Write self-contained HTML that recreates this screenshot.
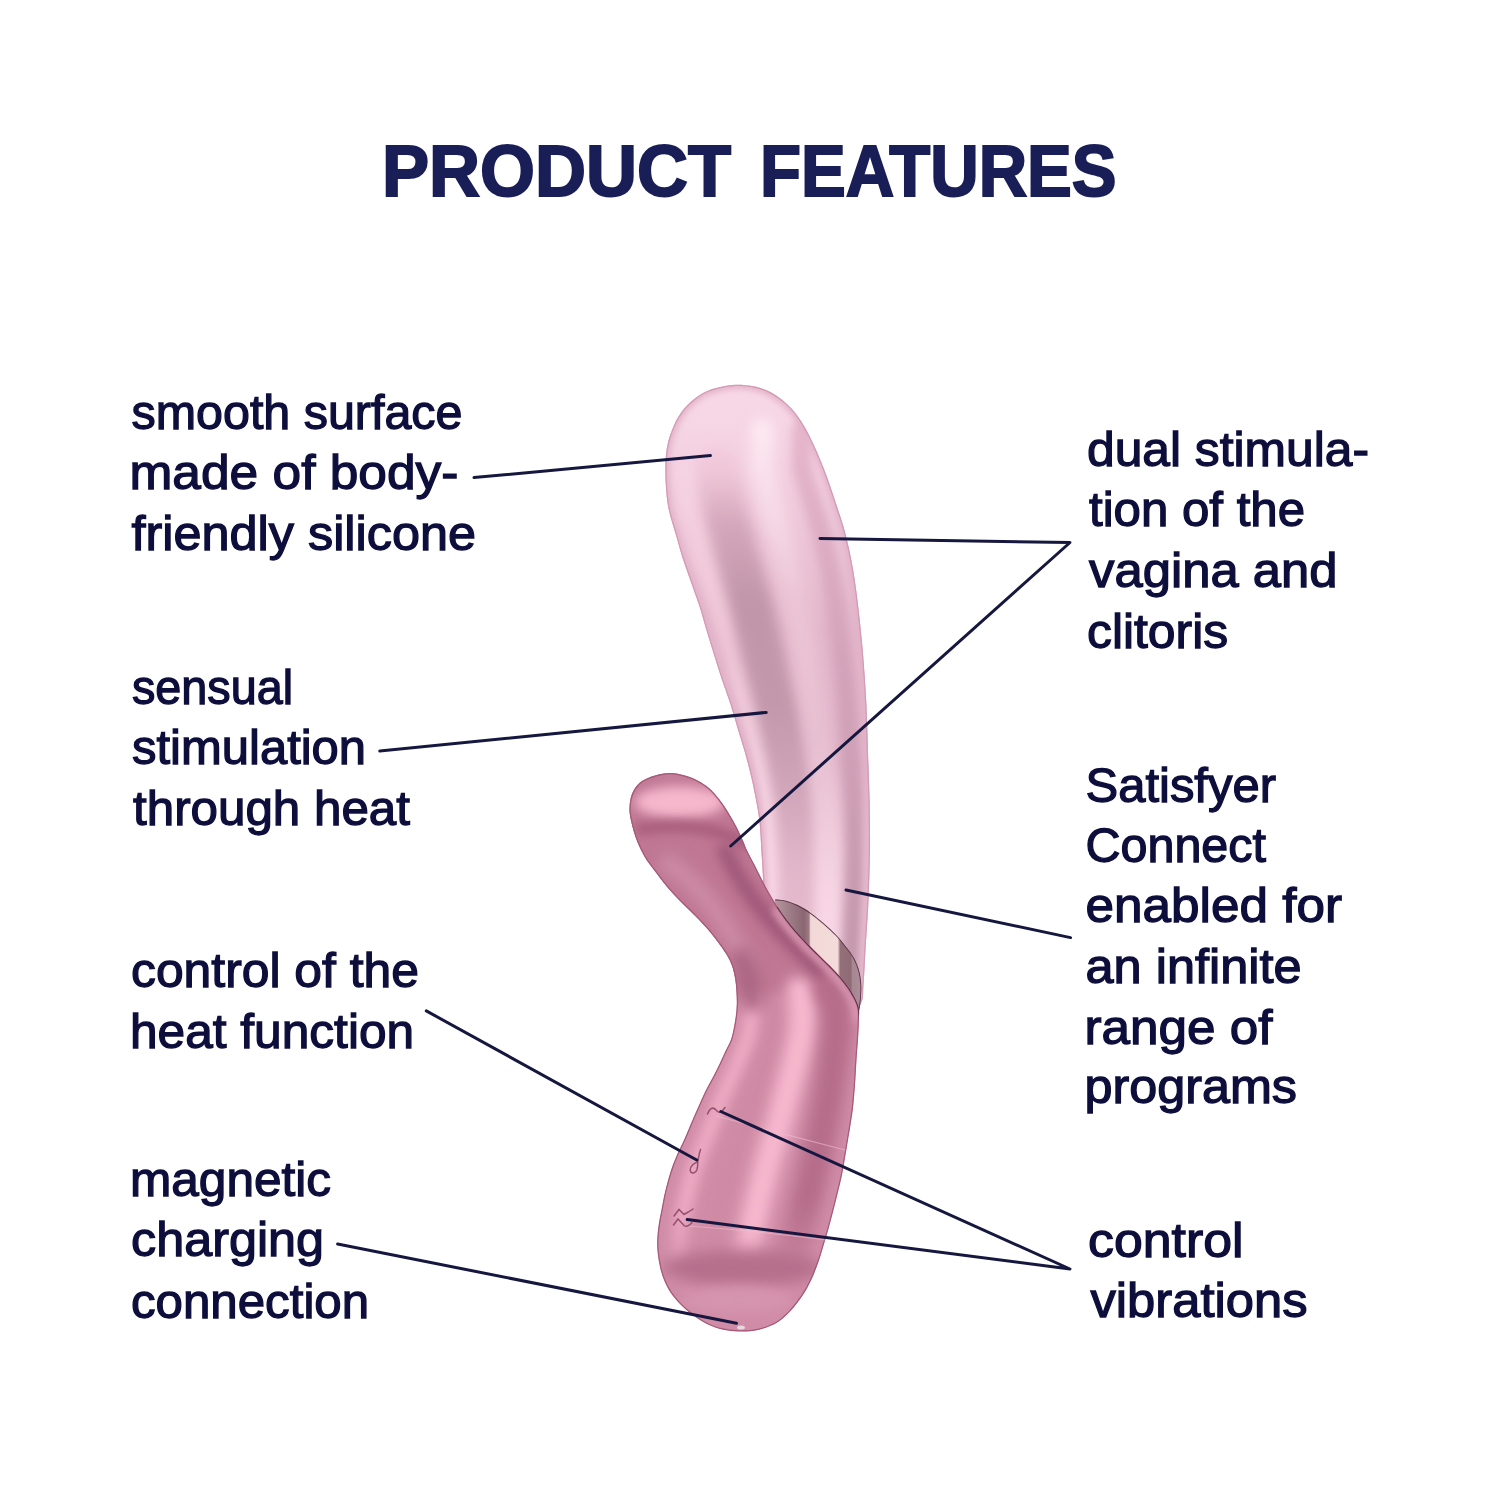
<!DOCTYPE html>
<html><head><meta charset="utf-8"><style>
html,body{margin:0;padding:0;background:#fff;}
svg{display:block}
.t{font-family:"Liberation Sans",sans-serif;font-size:49px;fill:#0e0e3c;stroke:#0e0e3c;stroke-width:1.3px;}
.h{font-family:"Liberation Sans",sans-serif;font-weight:bold;font-size:72px;fill:#191e57;stroke:#191e57;stroke-width:2px;}
</style></head><body>
<svg width="1500" height="1500" viewBox="0 0 1500 1500">
<defs>
 <filter id="b7" filterUnits="userSpaceOnUse" x="500" y="300" width="500" height="1100"><feGaussianBlur stdDeviation="7"/></filter>
 <filter id="b6" filterUnits="userSpaceOnUse" x="500" y="300" width="500" height="1100"><feGaussianBlur stdDeviation="6"/></filter>
 <filter id="b5" filterUnits="userSpaceOnUse" x="500" y="300" width="500" height="1100"><feGaussianBlur stdDeviation="5"/></filter>
 <filter id="b3" filterUnits="userSpaceOnUse" x="500" y="300" width="500" height="1100"><feGaussianBlur stdDeviation="3"/></filter>
 <filter id="b1" filterUnits="userSpaceOnUse" x="500" y="300" width="500" height="1100"><feGaussianBlur stdDeviation="1"/></filter>
 <filter id="b05" filterUnits="userSpaceOnUse" x="500" y="300" width="500" height="1100"><feGaussianBlur stdDeviation="0.5"/></filter>
 <linearGradient id="gS" gradientUnits="userSpaceOnUse" x1="0" y1="385" x2="0" y2="1000">
  <stop offset="0" stop-color="#f8d9e7"/><stop offset="0.15" stop-color="#f3cfe0"/><stop offset="0.4" stop-color="#e3b6cb"/><stop offset="0.62" stop-color="#e2b5ca"/><stop offset="0.76" stop-color="#eec9da"/><stop offset="1" stop-color="#f5d6e4"/>
 </linearGradient>
 <linearGradient id="gL" gradientUnits="userSpaceOnUse" x1="0" y1="470" x2="0" y2="1000">
  <stop offset="0" stop-color="#f6d3e3"/><stop offset="0.35" stop-color="#eec4d6"/><stop offset="0.6" stop-color="#f9d8e7"/><stop offset="0.72" stop-color="#fedeec"/><stop offset="1" stop-color="#fedeec"/>
 </linearGradient>
 <linearGradient id="gD" gradientUnits="userSpaceOnUse" x1="0" y1="470" x2="0" y2="1000">
  <stop offset="0" stop-color="#f0c8da"/><stop offset="0.1" stop-color="#d5a7bc"/><stop offset="0.25" stop-color="#c195a9"/><stop offset="0.45" stop-color="#c398ac"/><stop offset="0.62" stop-color="#d3a7bb"/><stop offset="0.75" stop-color="#e2b6ca"/><stop offset="1" stop-color="#e8bed0"/>
 </linearGradient>
 <linearGradient id="gH" gradientUnits="userSpaceOnUse" x1="0" y1="430" x2="0" y2="1000">
  <stop offset="0" stop-color="#fde8f1"/><stop offset="0.15" stop-color="#f6d8e6"/><stop offset="0.3" stop-color="#ebc4d5"/><stop offset="0.55" stop-color="#e6bfd1"/><stop offset="0.8" stop-color="#f6d4e3"/><stop offset="1" stop-color="#fddbe9"/>
 </linearGradient>
 <linearGradient id="gR" gradientUnits="userSpaceOnUse" x1="0" y1="430" x2="0" y2="1000">
  <stop offset="0" stop-color="#e6b6cc"/><stop offset="0.4" stop-color="#d3a3ba"/><stop offset="1" stop-color="#c396ab"/>
 </linearGradient>
 <linearGradient id="gBand" gradientUnits="userSpaceOnUse" x1="775" y1="0" x2="862" y2="0">
  <stop offset="0" stop-color="#b8979f"/><stop offset="0.12" stop-color="#a5848e"/><stop offset="0.33" stop-color="#8a6671"/><stop offset="0.39" stop-color="#9d7a84"/><stop offset="0.41" stop-color="#f2d9d8"/><stop offset="0.72" stop-color="#f3dbda"/><stop offset="0.75" stop-color="#94707a"/><stop offset="0.87" stop-color="#8f6b75"/><stop offset="0.89" stop-color="#a68690"/><stop offset="1" stop-color="#ae8e98"/>
 </linearGradient>
 <linearGradient id="hg1" gradientUnits="userSpaceOnUse" x1="0" y1="990" x2="0" y2="1290"><stop offset="0" stop-color="#eeaac3"/><stop offset="0.75" stop-color="#eeaac3"/><stop offset="1" stop-color="#eeaac3" stop-opacity="0"/></linearGradient>
 <linearGradient id="hg2" gradientUnits="userSpaceOnUse" x1="0" y1="990" x2="0" y2="1290"><stop offset="0" stop-color="#cf89a4"/><stop offset="0.75" stop-color="#cf89a4"/><stop offset="1" stop-color="#cf89a4" stop-opacity="0"/></linearGradient>
 <linearGradient id="hg3" gradientUnits="userSpaceOnUse" x1="0" y1="990" x2="0" y2="1290"><stop offset="0" stop-color="#f7b8ce"/><stop offset="0.8" stop-color="#f7b8ce"/><stop offset="1" stop-color="#f7b8ce" stop-opacity="0"/></linearGradient>
 <linearGradient id="hg4" gradientUnits="userSpaceOnUse" x1="0" y1="990" x2="0" y2="1290"><stop offset="0" stop-color="#b56d8a"/><stop offset="0.7" stop-color="#b56d8a"/><stop offset="1" stop-color="#b56d8a" stop-opacity="0"/></linearGradient>
 <clipPath id="cs"><path d="M665.3,469.0 C665.3,463.0 665.6,457.3 666.3,452.0 C667.0,446.7 668.0,441.8 669.5,437.0 C671.0,432.2 672.8,427.5 675.0,423.0 C677.2,418.5 680.0,413.8 683.0,410.0 C686.0,406.2 689.3,403.0 693.0,400.0 C696.7,397.0 700.5,394.2 705.0,392.0 C709.5,389.8 714.8,388.2 720.0,387.0 C725.2,385.8 730.7,384.9 736.0,384.7 C741.3,384.5 747.0,385.1 752.0,386.0 C757.0,386.9 761.5,388.1 766.0,390.0 C770.5,391.9 774.8,394.5 779.0,397.5 C783.2,400.5 787.3,404.1 791.0,408.0 C794.7,411.9 797.9,416.3 801.0,421.0 C804.1,425.7 806.8,430.8 809.5,436.0 C812.2,441.2 814.6,446.5 817.0,452.0 C819.4,457.5 821.8,463.2 824.0,469.0 C826.2,474.8 828.4,480.8 830.5,487.0 C832.6,493.2 834.4,498.5 836.8,506.0 C839.2,513.5 842.3,521.7 845.0,532.0 C847.7,542.3 850.6,555.3 852.8,568.0 C855.0,580.7 856.7,593.3 858.4,608.0 C860.1,622.7 861.9,640.0 863.2,656.0 C864.5,672.0 865.6,688.0 866.4,704.0 C867.2,720.0 867.5,736.0 868.0,752.0 C868.5,768.0 869.3,783.7 869.6,800.0 C869.9,816.3 870.2,833.3 870.0,850.0 C869.8,866.7 869.2,883.3 868.5,900.0 C867.8,916.7 866.3,935.8 865.5,950.0 C864.7,964.2 864.2,976.3 863.5,985.0 C862.8,993.7 863.8,997.5 861.5,1002.0 C859.2,1006.5 860.2,1009.7 850.0,1012.0 C839.8,1014.3 814.0,1024.7 800.0,1016.0 C786.0,1007.3 772.0,979.3 766.0,960.0 C760.0,940.7 764.7,916.7 764.0,900.0 C763.3,883.3 762.8,873.0 762.0,860.0 C761.2,847.0 760.5,832.0 759.5,822.0 C758.5,812.0 757.4,807.7 756.0,800.0 C754.6,792.3 752.9,784.0 751.0,776.0 C749.1,768.0 747.0,760.0 744.8,752.0 C742.5,744.0 739.9,736.0 737.5,728.0 C735.1,720.0 733.0,712.0 730.4,704.0 C727.8,696.0 724.7,688.0 722.0,680.0 C719.3,672.0 716.9,664.0 714.4,656.0 C711.9,648.0 709.4,640.0 707.0,632.0 C704.6,624.0 702.3,615.3 700.0,608.0 C697.7,600.7 695.3,594.7 693.0,588.0 C690.7,581.3 688.0,573.8 686.0,568.0 C684.0,562.2 682.5,558.0 681.0,553.0 C679.5,548.0 678.3,543.2 676.8,538.0 C675.3,532.8 673.5,527.3 672.0,522.0 C670.5,516.7 669.0,511.7 668.0,506.0 C667.0,500.3 666.5,494.2 666.0,488.0 C665.5,481.8 665.2,475.0 665.3,469.0Z"/></clipPath>
 <clipPath id="ch"><path d="M669.5,773.0 C674.2,772.9 678.3,773.8 683.0,775.0 C687.7,776.2 693.1,778.2 697.5,780.5 C701.9,782.8 705.9,785.4 709.5,788.5 C713.1,791.6 715.9,795.1 719.0,799.0 C722.1,802.9 725.2,807.5 728.0,812.0 C730.8,816.5 733.5,821.2 736.0,826.0 C738.5,830.8 741.2,837.0 743.0,841.0 C744.8,845.0 745.0,846.3 746.9,850.2 C748.8,854.1 751.8,859.5 754.2,864.3 C756.6,869.0 759.0,873.9 761.5,878.7 C764.0,883.5 766.4,888.3 769.1,893.0 C771.8,897.7 774.6,902.3 777.5,906.8 C780.4,911.3 783.5,915.6 786.7,919.9 C789.9,924.1 793.3,928.3 796.8,932.3 C800.3,936.3 804.0,940.2 807.7,944.1 C811.4,948.0 815.3,951.6 819.1,955.4 C822.9,959.2 826.9,962.9 830.6,966.7 C834.3,970.5 838.0,974.3 841.4,978.4 C844.8,982.5 848.1,986.6 850.9,991.2 C853.7,995.8 856.9,1001.4 858.2,1005.9 C859.6,1010.4 859.0,1013.1 859.0,1018.0 C859.0,1022.9 858.7,1028.0 858.3,1035.0 C857.9,1042.0 857.0,1051.7 856.5,1060.0 C856.0,1068.3 855.6,1077.0 855.0,1085.0 C854.4,1093.0 853.8,1101.3 853.0,1108.0 C852.2,1114.7 851.3,1119.7 850.5,1125.0 C849.7,1130.3 848.9,1134.5 848.0,1140.0 C847.1,1145.5 846.0,1152.2 845.0,1158.0 C844.0,1163.8 843.2,1169.3 842.0,1175.0 C840.8,1180.7 839.4,1186.2 838.0,1192.0 C836.6,1197.8 835.0,1204.2 833.5,1210.0 C832.0,1215.8 830.6,1221.3 829.0,1227.0 C827.4,1232.7 825.8,1238.2 824.0,1244.0 C822.2,1249.8 820.6,1255.9 818.4,1262.0 C816.2,1268.1 813.7,1274.8 811.0,1280.5 C808.3,1286.2 805.8,1290.8 802.3,1296.0 C798.8,1301.2 794.3,1307.0 790.0,1311.5 C785.7,1316.0 781.8,1319.9 776.5,1323.0 C771.2,1326.1 764.2,1328.6 758.0,1330.0 C751.8,1331.4 745.3,1331.7 739.0,1331.5 C732.7,1331.3 725.7,1330.4 720.0,1329.0 C714.3,1327.6 709.7,1325.4 705.0,1323.0 C700.3,1320.6 696.2,1317.7 692.0,1314.5 C687.8,1311.3 683.6,1307.7 680.0,1304.0 C676.4,1300.3 673.2,1296.5 670.5,1292.5 C667.8,1288.5 665.8,1284.2 664.0,1280.0 C662.2,1275.8 661.0,1271.3 660.0,1267.0 C659.0,1262.7 658.3,1258.5 657.8,1254.0 C657.3,1249.5 657.0,1245.0 657.2,1240.0 C657.4,1235.0 658.0,1229.3 658.8,1224.0 C659.6,1218.7 660.7,1213.7 661.8,1208.0 C662.9,1202.3 664.0,1196.0 665.5,1190.0 C667.0,1184.0 668.7,1177.7 670.5,1172.0 C672.3,1166.3 674.2,1161.3 676.5,1156.0 C678.8,1150.7 681.3,1146.0 684.0,1140.0 C686.7,1134.0 689.6,1126.7 692.5,1120.0 C695.4,1113.3 698.9,1105.3 701.3,1100.0 C703.7,1094.7 705.0,1092.0 707.0,1088.0 C709.0,1084.0 711.4,1080.0 713.5,1076.0 C715.6,1072.0 717.6,1068.0 719.5,1064.0 C721.4,1060.0 723.1,1056.0 725.0,1052.0 C726.9,1048.0 729.3,1044.0 730.8,1040.0 C732.3,1036.0 733.0,1032.0 733.8,1028.0 C734.6,1024.0 735.3,1020.0 735.8,1016.0 C736.3,1012.0 736.7,1008.0 736.8,1004.0 C736.9,1000.0 736.7,996.0 736.5,992.0 C736.3,988.0 736.0,984.0 735.4,980.0 C734.8,976.0 734.0,971.8 732.8,968.0 C731.6,964.2 730.1,960.8 728.0,957.0 C725.9,953.2 723.0,949.2 720.0,945.0 C717.0,940.8 713.5,936.2 710.0,932.0 C706.5,927.8 702.3,923.3 699.2,920.0 C696.1,916.7 693.9,914.7 691.2,912.0 C688.5,909.3 685.7,906.7 683.0,904.0 C680.3,901.3 677.7,898.7 675.2,896.0 C672.7,893.3 670.3,890.7 668.0,888.0 C665.7,885.3 663.9,883.0 661.6,880.0 C659.3,877.0 656.5,873.3 654.0,870.0 C651.5,866.7 648.8,863.5 646.5,860.0 C644.2,856.5 642.3,852.8 640.5,849.0 C638.7,845.2 637.0,841.2 635.5,837.0 C634.0,832.8 632.8,828.3 631.8,824.0 C630.8,819.7 629.7,815.2 629.5,811.0 C629.3,806.8 629.7,802.7 630.5,799.0 C631.3,795.3 632.6,792.0 634.5,789.0 C636.4,786.0 638.6,783.2 642.0,781.0 C645.4,778.8 650.4,776.8 655.0,775.5 C659.6,774.2 664.8,773.1 669.5,773.0Z"/></clipPath>
 <clipPath id="cb"><path d="M775.1,899.5 C776.7,899.6 780.9,899.5 784.7,900.4 C788.5,901.3 793.4,903.0 797.7,905.1 C802.0,907.2 806.4,909.9 810.7,912.9 C815.0,915.9 819.4,919.5 823.7,923.3 C828.0,927.1 833.1,931.7 836.7,935.5 C840.3,939.3 842.4,942.1 845.3,945.9 C848.2,949.6 851.7,953.8 854.0,958.0 C856.3,962.2 858.0,966.7 859.2,971.0 C860.4,975.3 860.9,979.8 861.2,984.0 C861.5,988.2 861.2,992.3 861.0,996.0 C860.8,999.7 860.4,1003.2 860.0,1006.0 C859.6,1008.8 858.8,1011.8 858.5,1013.0 L770,1013 Z"/></clipPath>
</defs>
<rect width="1500" height="1500" fill="#fff"/>
<text class="h" x="382.0" y="196" textLength="349.0" lengthAdjust="spacingAndGlyphs">PRODUCT</text><text class="h" x="760.0" y="196" textLength="356.6" lengthAdjust="spacingAndGlyphs">FEATURES</text>
<g class="t" opacity="0.999">
<text x="131.5" y="428.9" textLength="331.0" lengthAdjust="spacingAndGlyphs">smooth surface</text>
<text x="129.5" y="489.3" textLength="329.0" lengthAdjust="spacingAndGlyphs">made of body-</text>
<text x="131.5" y="550" textLength="344.5" lengthAdjust="spacingAndGlyphs">friendly silicone</text>
<text x="132.0" y="703.6" textLength="161.1" lengthAdjust="spacingAndGlyphs">sensual</text>
<text x="132.0" y="764.4" textLength="234.1" lengthAdjust="spacingAndGlyphs">stimulation</text>
<text x="133.0" y="825" textLength="277.0" lengthAdjust="spacingAndGlyphs">through heat</text>
<text x="131.0" y="986.9" textLength="288.0" lengthAdjust="spacingAndGlyphs">control of the</text>
<text x="130.0" y="1047.7" textLength="284.1" lengthAdjust="spacingAndGlyphs">heat function</text>
<text x="130.0" y="1195.9" textLength="201.1" lengthAdjust="spacingAndGlyphs">magnetic</text>
<text x="131.0" y="1255.6" textLength="193.1" lengthAdjust="spacingAndGlyphs">charging</text>
<text x="131.0" y="1317.5" textLength="238.1" lengthAdjust="spacingAndGlyphs">connection</text>
<text x="1087.0" y="465.5" textLength="282.0" lengthAdjust="spacingAndGlyphs">dual stimula-</text>
<text x="1089.0" y="526.3" textLength="216.0" lengthAdjust="spacingAndGlyphs">tion of the</text>
<text x="1089.0" y="587" textLength="248.5" lengthAdjust="spacingAndGlyphs">vagina and</text>
<text x="1087.0" y="647.9" textLength="141.1" lengthAdjust="spacingAndGlyphs">clitoris</text>
<text x="1085.5" y="801.8" textLength="190.5" lengthAdjust="spacingAndGlyphs">Satisfyer</text>
<text x="1085.5" y="862.3" textLength="180.5" lengthAdjust="spacingAndGlyphs">Connect</text>
<text x="1085.5" y="921.5" textLength="256.5" lengthAdjust="spacingAndGlyphs">enabled for</text>
<text x="1085.5" y="983.2" textLength="216.1" lengthAdjust="spacingAndGlyphs">an infinite</text>
<text x="1084.5" y="1043.6" textLength="188.0" lengthAdjust="spacingAndGlyphs">range of</text>
<text x="1084.4" y="1102.8" textLength="212.6" lengthAdjust="spacingAndGlyphs">programs</text>
<text x="1088.0" y="1257.2" textLength="155.6" lengthAdjust="spacingAndGlyphs">control</text>
<text x="1090.5" y="1316.9" textLength="217.0" lengthAdjust="spacingAndGlyphs">vibrations</text>
</g>
<!-- shaft -->
<g clip-path="url(#cs)">
 <path d="M665.3,469.0 C665.3,463.0 665.6,457.3 666.3,452.0 C667.0,446.7 668.0,441.8 669.5,437.0 C671.0,432.2 672.8,427.5 675.0,423.0 C677.2,418.5 680.0,413.8 683.0,410.0 C686.0,406.2 689.3,403.0 693.0,400.0 C696.7,397.0 700.5,394.2 705.0,392.0 C709.5,389.8 714.8,388.2 720.0,387.0 C725.2,385.8 730.7,384.9 736.0,384.7 C741.3,384.5 747.0,385.1 752.0,386.0 C757.0,386.9 761.5,388.1 766.0,390.0 C770.5,391.9 774.8,394.5 779.0,397.5 C783.2,400.5 787.3,404.1 791.0,408.0 C794.7,411.9 797.9,416.3 801.0,421.0 C804.1,425.7 806.8,430.8 809.5,436.0 C812.2,441.2 814.6,446.5 817.0,452.0 C819.4,457.5 821.8,463.2 824.0,469.0 C826.2,474.8 828.4,480.8 830.5,487.0 C832.6,493.2 834.4,498.5 836.8,506.0 C839.2,513.5 842.3,521.7 845.0,532.0 C847.7,542.3 850.6,555.3 852.8,568.0 C855.0,580.7 856.7,593.3 858.4,608.0 C860.1,622.7 861.9,640.0 863.2,656.0 C864.5,672.0 865.6,688.0 866.4,704.0 C867.2,720.0 867.5,736.0 868.0,752.0 C868.5,768.0 869.3,783.7 869.6,800.0 C869.9,816.3 870.2,833.3 870.0,850.0 C869.8,866.7 869.2,883.3 868.5,900.0 C867.8,916.7 866.3,935.8 865.5,950.0 C864.7,964.2 864.2,976.3 863.5,985.0 C862.8,993.7 863.8,997.5 861.5,1002.0 C859.2,1006.5 860.2,1009.7 850.0,1012.0 C839.8,1014.3 814.0,1024.7 800.0,1016.0 C786.0,1007.3 772.0,979.3 766.0,960.0 C760.0,940.7 764.7,916.7 764.0,900.0 C763.3,883.3 762.8,873.0 762.0,860.0 C761.2,847.0 760.5,832.0 759.5,822.0 C758.5,812.0 757.4,807.7 756.0,800.0 C754.6,792.3 752.9,784.0 751.0,776.0 C749.1,768.0 747.0,760.0 744.8,752.0 C742.5,744.0 739.9,736.0 737.5,728.0 C735.1,720.0 733.0,712.0 730.4,704.0 C727.8,696.0 724.7,688.0 722.0,680.0 C719.3,672.0 716.9,664.0 714.4,656.0 C711.9,648.0 709.4,640.0 707.0,632.0 C704.6,624.0 702.3,615.3 700.0,608.0 C697.7,600.7 695.3,594.7 693.0,588.0 C690.7,581.3 688.0,573.8 686.0,568.0 C684.0,562.2 682.5,558.0 681.0,553.0 C679.5,548.0 678.3,543.2 676.8,538.0 C675.3,532.8 673.5,527.3 672.0,522.0 C670.5,516.7 669.0,511.7 668.0,506.0 C667.0,500.3 666.5,494.2 666.0,488.0 C665.5,481.8 665.2,475.0 665.3,469.0Z" fill="url(#gS)"/>
 <path d="M686.0,470.0 L686.6,478.0 L687.3,486.0 L688.3,494.0 L689.4,502.0 L691.0,510.0 L693.0,518.0 L695.3,526.0 L697.7,534.0 L699.9,542.0 L702.1,550.0 L704.5,558.0 L707.0,566.0 L709.6,574.0 L712.2,582.0 L714.8,590.0 L717.4,598.0 L719.9,606.0 L722.2,614.0 L724.3,622.0 L726.5,630.0 L728.7,638.0 L730.9,646.0 L733.2,654.0 L735.4,662.0 L737.7,670.0 L740.0,678.0 L742.4,686.0 L744.9,694.0 L747.5,702.0 L749.7,710.0 L751.7,718.0 L753.8,726.0 L756.0,734.0 L758.1,742.0 L760.3,750.0 L762.2,758.0 L764.0,766.0 L765.9,774.0 L767.4,782.0 L768.9,790.0 L770.4,798.0 L771.6,806.0 L772.7,814.0 L773.8,822.0 L774.3,830.0 L774.8,838.0 L775.2,846.0 L775.7,854.0 L776.1,862.0 L776.4,870.0 L776.7,878.0 L777.0,886.0 L777.3,894.0 L777.6,902.0 L777.8,910.0 L778.0,918.0 L778.1,926.0 L778.3,934.0 L778.5,942.0 L778.6,950.0 L778.8,958.0 L778.8,966.0 L778.8,974.0 L778.7,982.0 L778.6,990.0 L778.5,998.0" stroke="url(#gL)" stroke-width="20" fill="none" stroke-linecap="round" filter="url(#b5)" opacity="1"/><path d="M717.8,470.0 L719.0,478.0 L720.1,486.0 L721.5,494.0 L723.0,502.0 L724.8,510.0 L727.0,518.0 L729.3,526.0 L731.6,534.0 L733.8,542.0 L735.8,550.0 L738.1,558.0 L740.5,566.0 L742.7,574.0 L745.0,582.0 L747.2,590.0 L749.5,598.0 L751.7,606.0 L753.6,614.0 L755.5,622.0 L757.3,630.0 L759.2,638.0 L761.1,646.0 L763.0,654.0 L764.9,662.0 L766.8,670.0 L768.7,678.0 L770.7,686.0 L772.7,694.0 L774.8,702.0 L776.5,710.0 L778.2,718.0 L779.9,726.0 L781.6,734.0 L783.3,742.0 L785.0,750.0 L786.6,758.0 L788.0,766.0 L789.5,774.0 L790.8,782.0 L792.0,790.0 L793.2,798.0 L794.1,806.0 L795.0,814.0 L795.9,822.0 L796.3,830.0 L796.6,838.0 L797.0,846.0 L797.3,854.0 L797.6,862.0 L797.8,870.0 L798.0,878.0 L798.2,886.0 L798.3,894.0 L798.5,902.0 L798.5,910.0 L798.5,918.0 L798.6,926.0 L798.6,934.0 L798.6,942.0 L798.6,950.0 L798.6,958.0 L798.5,966.0 L798.4,974.0 L798.2,982.0 L798.0,990.0 L797.7,998.0" stroke="url(#gD)" stroke-width="42" fill="none" stroke-linecap="round" filter="url(#b7)" opacity="1"/><path d="M762.1,430.0 L762.1,438.0 L762.1,446.0 L762.1,454.0 L762.1,462.0 L762.3,470.0 L764.2,478.0 L766.1,486.0 L768.0,494.0 L770.0,502.0 L772.1,510.0 L774.4,518.0 L776.8,526.0 L779.2,534.0 L781.2,542.0 L783.1,550.0 L785.1,558.0 L787.2,566.0 L789.1,574.0 L790.9,582.0 L792.6,590.0 L794.4,598.0 L796.2,606.0 L797.7,614.0 L799.1,622.0 L800.5,630.0 L801.9,638.0 L803.4,646.0 L804.8,654.0 L806.2,662.0 L807.5,670.0 L808.8,678.0 L810.2,686.0 L811.6,694.0 L813.0,702.0 L814.2,710.0 L815.3,718.0 L816.3,726.0 L817.5,734.0 L818.6,742.0 L819.7,750.0 L820.7,758.0 L821.6,766.0 L822.6,774.0 L823.5,782.0 L824.3,790.0 L825.1,798.0 L825.7,806.0 L826.2,814.0 L826.8,822.0 L827.0,830.0 L827.3,838.0 L827.5,846.0 L827.7,854.0 L827.7,862.0 L827.7,870.0 L827.7,878.0 L827.7,886.0 L827.7,894.0 L827.7,902.0 L827.5,910.0 L827.3,918.0 L827.1,926.0 L826.9,934.0 L826.8,942.0 L826.6,950.0 L826.4,958.0 L826.1,966.0 L825.9,974.0 L825.6,982.0 L825.1,990.0 L824.5,998.0" stroke="url(#gH)" stroke-width="24" fill="none" stroke-linecap="round" filter="url(#b6)" opacity="1"/><path d="M801.8,430.0 L801.8,438.0 L801.8,446.0 L801.8,454.0 L801.8,462.0 L802.1,470.0 L804.6,478.0 L807.1,486.0 L809.6,494.0 L812.0,502.0 L814.4,510.0 L816.8,518.0 L819.3,526.0 L821.7,534.0 L823.5,542.0 L825.3,550.0 L827.1,558.0 L829.0,566.0 L830.5,574.0 L831.8,582.0 L833.2,590.0 L834.5,598.0 L835.9,606.0 L837.0,614.0 L838.0,622.0 L839.0,630.0 L840.0,638.0 L841.1,646.0 L842.1,654.0 L843.0,662.0 L843.8,670.0 L844.6,678.0 L845.4,686.0 L846.3,694.0 L847.1,702.0 L847.8,710.0 L848.3,718.0 L848.9,726.0 L849.5,734.0 L850.0,742.0 L850.6,750.0 L851.1,758.0 L851.7,766.0 L852.2,774.0 L852.7,782.0 L853.1,790.0 L853.6,798.0 L853.9,806.0 L854.1,814.0 L854.3,822.0 L854.5,830.0 L854.6,838.0 L854.7,846.0 L854.7,854.0 L854.6,862.0 L854.4,870.0 L854.3,878.0 L854.1,886.0 L854.0,894.0 L853.8,902.0 L853.4,910.0 L853.0,918.0 L852.6,926.0 L852.3,934.0 L851.9,942.0 L851.5,950.0 L851.2,958.0 L850.8,966.0 L850.4,974.0 L850.0,982.0 L849.3,990.0 L848.5,998.0" stroke="url(#gR)" stroke-width="20" fill="none" stroke-linecap="round" filter="url(#b5)" opacity="1"/>
 <path d="M665.3,469.0 C665.3,463.0 665.6,457.3 666.3,452.0 C667.0,446.7 668.0,441.8 669.5,437.0 C671.0,432.2 672.8,427.5 675.0,423.0 C677.2,418.5 680.0,413.8 683.0,410.0 C686.0,406.2 689.3,403.0 693.0,400.0 C696.7,397.0 700.5,394.2 705.0,392.0 C709.5,389.8 714.8,388.2 720.0,387.0 C725.2,385.8 730.7,384.9 736.0,384.7 C741.3,384.5 747.0,385.1 752.0,386.0 C757.0,386.9 761.5,388.1 766.0,390.0 C770.5,391.9 774.8,394.5 779.0,397.5 C783.2,400.5 787.3,404.1 791.0,408.0 C794.7,411.9 797.9,416.3 801.0,421.0 C804.1,425.7 806.8,430.8 809.5,436.0 C812.2,441.2 814.6,446.5 817.0,452.0 C819.4,457.5 821.8,463.2 824.0,469.0 C826.2,474.8 828.4,480.8 830.5,487.0 C832.6,493.2 834.4,498.5 836.8,506.0 C839.2,513.5 842.3,521.7 845.0,532.0 C847.7,542.3 850.6,555.3 852.8,568.0 C855.0,580.7 856.7,593.3 858.4,608.0 C860.1,622.7 861.9,640.0 863.2,656.0 C864.5,672.0 865.6,688.0 866.4,704.0 C867.2,720.0 867.5,736.0 868.0,752.0 C868.5,768.0 869.3,783.7 869.6,800.0 C869.9,816.3 870.2,833.3 870.0,850.0 C869.8,866.7 869.2,883.3 868.5,900.0 C867.8,916.7 866.3,935.8 865.5,950.0 C864.7,964.2 864.2,976.3 863.5,985.0 C862.8,993.7 863.8,997.5 861.5,1002.0 C859.2,1006.5 860.2,1009.7 850.0,1012.0 C839.8,1014.3 814.0,1024.7 800.0,1016.0 C786.0,1007.3 772.0,979.3 766.0,960.0 C760.0,940.7 764.7,916.7 764.0,900.0 C763.3,883.3 762.8,873.0 762.0,860.0 C761.2,847.0 760.5,832.0 759.5,822.0 C758.5,812.0 757.4,807.7 756.0,800.0 C754.6,792.3 752.9,784.0 751.0,776.0 C749.1,768.0 747.0,760.0 744.8,752.0 C742.5,744.0 739.9,736.0 737.5,728.0 C735.1,720.0 733.0,712.0 730.4,704.0 C727.8,696.0 724.7,688.0 722.0,680.0 C719.3,672.0 716.9,664.0 714.4,656.0 C711.9,648.0 709.4,640.0 707.0,632.0 C704.6,624.0 702.3,615.3 700.0,608.0 C697.7,600.7 695.3,594.7 693.0,588.0 C690.7,581.3 688.0,573.8 686.0,568.0 C684.0,562.2 682.5,558.0 681.0,553.0 C679.5,548.0 678.3,543.2 676.8,538.0 C675.3,532.8 673.5,527.3 672.0,522.0 C670.5,516.7 669.0,511.7 668.0,506.0 C667.0,500.3 666.5,494.2 666.0,488.0 C665.5,481.8 665.2,475.0 665.3,469.0Z" fill="none" stroke="#e2b1c7" stroke-width="8" filter="url(#b3)"/>
 <path d="M665.3,469.0 C665.3,463.0 665.6,457.3 666.3,452.0 C667.0,446.7 668.0,441.8 669.5,437.0 C671.0,432.2 672.8,427.5 675.0,423.0 C677.2,418.5 680.0,413.8 683.0,410.0 C686.0,406.2 689.3,403.0 693.0,400.0 C696.7,397.0 700.5,394.2 705.0,392.0 C709.5,389.8 714.8,388.2 720.0,387.0 C725.2,385.8 730.7,384.9 736.0,384.7 C741.3,384.5 747.0,385.1 752.0,386.0 C757.0,386.9 761.5,388.1 766.0,390.0 C770.5,391.9 774.8,394.5 779.0,397.5 C783.2,400.5 787.3,404.1 791.0,408.0 C794.7,411.9 797.9,416.3 801.0,421.0 C804.1,425.7 806.8,430.8 809.5,436.0 C812.2,441.2 814.6,446.5 817.0,452.0 C819.4,457.5 821.8,463.2 824.0,469.0 C826.2,474.8 828.4,480.8 830.5,487.0 C832.6,493.2 834.4,498.5 836.8,506.0 C839.2,513.5 842.3,521.7 845.0,532.0 C847.7,542.3 850.6,555.3 852.8,568.0 C855.0,580.7 856.7,593.3 858.4,608.0 C860.1,622.7 861.9,640.0 863.2,656.0 C864.5,672.0 865.6,688.0 866.4,704.0 C867.2,720.0 867.5,736.0 868.0,752.0 C868.5,768.0 869.3,783.7 869.6,800.0 C869.9,816.3 870.2,833.3 870.0,850.0 C869.8,866.7 869.2,883.3 868.5,900.0 C867.8,916.7 866.3,935.8 865.5,950.0 C864.7,964.2 864.2,976.3 863.5,985.0 C862.8,993.7 863.8,997.5 861.5,1002.0 C859.2,1006.5 860.2,1009.7 850.0,1012.0 C839.8,1014.3 814.0,1024.7 800.0,1016.0 C786.0,1007.3 772.0,979.3 766.0,960.0 C760.0,940.7 764.7,916.7 764.0,900.0 C763.3,883.3 762.8,873.0 762.0,860.0 C761.2,847.0 760.5,832.0 759.5,822.0 C758.5,812.0 757.4,807.7 756.0,800.0 C754.6,792.3 752.9,784.0 751.0,776.0 C749.1,768.0 747.0,760.0 744.8,752.0 C742.5,744.0 739.9,736.0 737.5,728.0 C735.1,720.0 733.0,712.0 730.4,704.0 C727.8,696.0 724.7,688.0 722.0,680.0 C719.3,672.0 716.9,664.0 714.4,656.0 C711.9,648.0 709.4,640.0 707.0,632.0 C704.6,624.0 702.3,615.3 700.0,608.0 C697.7,600.7 695.3,594.7 693.0,588.0 C690.7,581.3 688.0,573.8 686.0,568.0 C684.0,562.2 682.5,558.0 681.0,553.0 C679.5,548.0 678.3,543.2 676.8,538.0 C675.3,532.8 673.5,527.3 672.0,522.0 C670.5,516.7 669.0,511.7 668.0,506.0 C667.0,500.3 666.5,494.2 666.0,488.0 C665.5,481.8 665.2,475.0 665.3,469.0Z" fill="none" stroke="#d49bb6" stroke-width="2.5" filter="url(#b05)"/>
</g>
<!-- band -->
<g clip-path="url(#cb)">
 <rect x="770" y="895" width="95" height="130" fill="url(#gBand)"/>
 <path d="M775.1,899.5 C776.7,899.6 780.9,899.5 784.7,900.4 C788.5,901.3 793.4,903.0 797.7,905.1 C802.0,907.2 806.4,909.9 810.7,912.9 C815.0,915.9 819.4,919.5 823.7,923.3 C828.0,927.1 833.1,931.7 836.7,935.5 C840.3,939.3 842.4,942.1 845.3,945.9 C848.2,949.6 851.7,953.8 854.0,958.0 C856.3,962.2 858.0,966.7 859.2,971.0 C860.4,975.3 860.9,979.8 861.2,984.0 C861.5,988.2 861.2,992.3 861.0,996.0 C860.8,999.7 860.4,1003.2 860.0,1006.0 C859.6,1008.8 858.8,1011.8 858.5,1013.0" stroke="#5e3848" stroke-width="1.8" fill="none"/>
</g>
<!-- handle -->
<g clip-path="url(#ch)">
 <path d="M669.5,773.0 C674.2,772.9 678.3,773.8 683.0,775.0 C687.7,776.2 693.1,778.2 697.5,780.5 C701.9,782.8 705.9,785.4 709.5,788.5 C713.1,791.6 715.9,795.1 719.0,799.0 C722.1,802.9 725.2,807.5 728.0,812.0 C730.8,816.5 733.5,821.2 736.0,826.0 C738.5,830.8 741.2,837.0 743.0,841.0 C744.8,845.0 745.0,846.3 746.9,850.2 C748.8,854.1 751.8,859.5 754.2,864.3 C756.6,869.0 759.0,873.9 761.5,878.7 C764.0,883.5 766.4,888.3 769.1,893.0 C771.8,897.7 774.6,902.3 777.5,906.8 C780.4,911.3 783.5,915.6 786.7,919.9 C789.9,924.1 793.3,928.3 796.8,932.3 C800.3,936.3 804.0,940.2 807.7,944.1 C811.4,948.0 815.3,951.6 819.1,955.4 C822.9,959.2 826.9,962.9 830.6,966.7 C834.3,970.5 838.0,974.3 841.4,978.4 C844.8,982.5 848.1,986.6 850.9,991.2 C853.7,995.8 856.9,1001.4 858.2,1005.9 C859.6,1010.4 859.0,1013.1 859.0,1018.0 C859.0,1022.9 858.7,1028.0 858.3,1035.0 C857.9,1042.0 857.0,1051.7 856.5,1060.0 C856.0,1068.3 855.6,1077.0 855.0,1085.0 C854.4,1093.0 853.8,1101.3 853.0,1108.0 C852.2,1114.7 851.3,1119.7 850.5,1125.0 C849.7,1130.3 848.9,1134.5 848.0,1140.0 C847.1,1145.5 846.0,1152.2 845.0,1158.0 C844.0,1163.8 843.2,1169.3 842.0,1175.0 C840.8,1180.7 839.4,1186.2 838.0,1192.0 C836.6,1197.8 835.0,1204.2 833.5,1210.0 C832.0,1215.8 830.6,1221.3 829.0,1227.0 C827.4,1232.7 825.8,1238.2 824.0,1244.0 C822.2,1249.8 820.6,1255.9 818.4,1262.0 C816.2,1268.1 813.7,1274.8 811.0,1280.5 C808.3,1286.2 805.8,1290.8 802.3,1296.0 C798.8,1301.2 794.3,1307.0 790.0,1311.5 C785.7,1316.0 781.8,1319.9 776.5,1323.0 C771.2,1326.1 764.2,1328.6 758.0,1330.0 C751.8,1331.4 745.3,1331.7 739.0,1331.5 C732.7,1331.3 725.7,1330.4 720.0,1329.0 C714.3,1327.6 709.7,1325.4 705.0,1323.0 C700.3,1320.6 696.2,1317.7 692.0,1314.5 C687.8,1311.3 683.6,1307.7 680.0,1304.0 C676.4,1300.3 673.2,1296.5 670.5,1292.5 C667.8,1288.5 665.8,1284.2 664.0,1280.0 C662.2,1275.8 661.0,1271.3 660.0,1267.0 C659.0,1262.7 658.3,1258.5 657.8,1254.0 C657.3,1249.5 657.0,1245.0 657.2,1240.0 C657.4,1235.0 658.0,1229.3 658.8,1224.0 C659.6,1218.7 660.7,1213.7 661.8,1208.0 C662.9,1202.3 664.0,1196.0 665.5,1190.0 C667.0,1184.0 668.7,1177.7 670.5,1172.0 C672.3,1166.3 674.2,1161.3 676.5,1156.0 C678.8,1150.7 681.3,1146.0 684.0,1140.0 C686.7,1134.0 689.6,1126.7 692.5,1120.0 C695.4,1113.3 698.9,1105.3 701.3,1100.0 C703.7,1094.7 705.0,1092.0 707.0,1088.0 C709.0,1084.0 711.4,1080.0 713.5,1076.0 C715.6,1072.0 717.6,1068.0 719.5,1064.0 C721.4,1060.0 723.1,1056.0 725.0,1052.0 C726.9,1048.0 729.3,1044.0 730.8,1040.0 C732.3,1036.0 733.0,1032.0 733.8,1028.0 C734.6,1024.0 735.3,1020.0 735.8,1016.0 C736.3,1012.0 736.7,1008.0 736.8,1004.0 C736.9,1000.0 736.7,996.0 736.5,992.0 C736.3,988.0 736.0,984.0 735.4,980.0 C734.8,976.0 734.0,971.8 732.8,968.0 C731.6,964.2 730.1,960.8 728.0,957.0 C725.9,953.2 723.0,949.2 720.0,945.0 C717.0,940.8 713.5,936.2 710.0,932.0 C706.5,927.8 702.3,923.3 699.2,920.0 C696.1,916.7 693.9,914.7 691.2,912.0 C688.5,909.3 685.7,906.7 683.0,904.0 C680.3,901.3 677.7,898.7 675.2,896.0 C672.7,893.3 670.3,890.7 668.0,888.0 C665.7,885.3 663.9,883.0 661.6,880.0 C659.3,877.0 656.5,873.3 654.0,870.0 C651.5,866.7 648.8,863.5 646.5,860.0 C644.2,856.5 642.3,852.8 640.5,849.0 C638.7,845.2 637.0,841.2 635.5,837.0 C634.0,832.8 632.8,828.3 631.8,824.0 C630.8,819.7 629.7,815.2 629.5,811.0 C629.3,806.8 629.7,802.7 630.5,799.0 C631.3,795.3 632.6,792.0 634.5,789.0 C636.4,786.0 638.6,783.2 642.0,781.0 C645.4,778.8 650.4,776.8 655.0,775.5 C659.6,774.2 664.8,773.1 669.5,773.0Z" fill="#d08ca6"/>
 <path d="M620,770 L770,770 L790,900 L860,960 L860,1000 L740,1000 L620,900Z" fill="#bf7793" filter="url(#b7)"/>
 <path d="M751.9,1000.0 L752.0,1008.0 L751.6,1016.0 L750.5,1024.0 L749.0,1032.0 L747.3,1040.0 L743.9,1048.0 L740.5,1056.0 L737.3,1064.0 L733.7,1072.0 L730.0,1080.0 L726.2,1088.0 L722.8,1096.0 L719.5,1104.0 L716.4,1112.0 L713.1,1120.0 L710.0,1128.0 L706.9,1136.0 L703.6,1144.0 L700.2,1152.0 L697.1,1160.0 L694.3,1168.0 L691.8,1176.0 L689.6,1184.0 L687.6,1192.0 L685.9,1200.0 L684.2,1208.0 L682.6,1216.0 L681.0,1224.0 L680.0,1232.0 L679.0,1240.0 L679.0,1248.0 L679.2,1256.0 L680.0,1264.0 L681.4,1272.0 L683.1,1280.0 L686.2,1288.0" stroke="url(#hg1)" stroke-width="16" fill="none" stroke-linecap="round" filter="url(#b6)" opacity="1"/><path d="M776.4,1000.0 L777.2,1008.0 L777.2,1016.0 L776.4,1024.0 L775.3,1032.0 L773.9,1040.0 L771.2,1048.0 L768.6,1056.0 L766.0,1064.0 L763.2,1072.0 L760.3,1080.0 L757.2,1088.0 L754.5,1096.0 L751.8,1104.0 L749.2,1112.0 L746.5,1120.0 L743.8,1128.0 L741.1,1136.0 L738.3,1144.0 L735.4,1152.0 L732.7,1160.0 L730.2,1168.0 L728.0,1176.0 L725.9,1184.0 L723.9,1192.0 L722.1,1200.0 L720.3,1208.0 L718.6,1216.0 L716.9,1224.0 L715.6,1232.0 L714.3,1240.0 L713.7,1248.0 L713.3,1256.0 L713.2,1264.0 L713.5,1272.0 L714.0,1280.0 L715.3,1288.0" stroke="url(#hg2)" stroke-width="16" fill="none" stroke-linecap="round" filter="url(#b6)" opacity="1"/><path d="M798.9,990.0 L800.5,998.0 L802.0,1006.0 L802.9,1014.0 L802.4,1022.0 L801.8,1030.0 L800.8,1038.0 L799.0,1046.0 L797.1,1054.0 L795.2,1062.0 L793.2,1070.0 L791.1,1078.0 L788.8,1086.0 L786.7,1094.0 L784.6,1102.0 L782.6,1110.0 L780.4,1118.0 L778.2,1126.0 L775.9,1134.0 L773.6,1142.0 L771.2,1150.0 L768.8,1158.0 L766.7,1166.0 L764.7,1174.0 L762.7,1182.0 L760.6,1190.0 L758.8,1198.0 L757.0,1206.0 L755.1,1214.0 L753.3,1222.0 L751.7,1230.0 L750.0,1238.0 L748.7,1246.0 L747.5,1254.0 L746.7,1262.0 L745.8,1270.0 L745.1,1278.0 L744.6,1286.0" stroke="url(#hg3)" stroke-width="26" fill="none" stroke-linecap="round" filter="url(#b7)" opacity="1"/><path d="M830.7,990.0 L833.0,998.0 L835.3,1006.0 L836.9,1014.0 L836.8,1022.0 L836.6,1030.0 L836.2,1038.0 L835.2,1046.0 L834.2,1054.0 L833.3,1062.0 L832.2,1070.0 L831.1,1078.0 L830.0,1086.0 L828.7,1094.0 L827.5,1102.0 L826.2,1110.0 L824.6,1118.0 L823.1,1126.0 L821.4,1134.0 L819.7,1142.0 L817.9,1150.0 L816.2,1158.0 L814.5,1166.0 L812.9,1174.0 L811.0,1182.0 L809.1,1190.0 L807.2,1198.0 L805.2,1206.0 L803.2,1214.0 L801.2,1222.0 L799.2,1230.0 L797.1,1238.0 L795.2,1246.0 L793.2,1254.0 L791.3,1262.0 L789.0,1270.0 L786.7,1278.0 L784.0,1286.0" stroke="url(#hg4)" stroke-width="30" fill="none" stroke-linecap="round" filter="url(#b7)" opacity="1"/>
 <ellipse cx="680" cy="802" rx="46" ry="16" fill="#f6b7cc" filter="url(#b6)"/>
 <path d="M636,830 C675,823 715,826 750,846" stroke="#a95f7d" stroke-width="12" fill="none" filter="url(#b5)"/>
 <path d="M662,860 C690,875 720,910 748,965" stroke="#cd8ba5" stroke-width="18" fill="none" filter="url(#b7)"/>
 <path d="M722,845 C738,880 758,915 825,975" stroke="#a05979" stroke-width="16" fill="none" filter="url(#b6)"/>
 <path d="M777.5,906.8 C779.0,909.0 783.5,915.6 786.7,919.9 C789.9,924.1 793.3,928.3 796.8,932.3 C800.3,936.3 804.0,940.2 807.7,944.1 C811.4,948.0 815.3,951.6 819.1,955.4 C822.9,959.2 826.9,962.9 830.6,966.7 C834.3,970.5 838.0,974.3 841.4,978.4 C844.8,982.5 848.1,986.6 850.9,991.2 C853.7,995.8 856.7,1001.1 858.2,1005.9 C859.7,1010.7 859.7,1017.6 860.0,1020.0" stroke="#d896b0" stroke-width="7" fill="none" filter="url(#b3)" transform="translate(-3,2)"/>
 <path d="M738,950 C748,970 752,990 752,1010" stroke="#ab6684" stroke-width="20" fill="none" filter="url(#b7)"/>
 <ellipse cx="742" cy="1268" rx="80" ry="18" fill="#b66f8c" filter="url(#b7)"/>
 <ellipse cx="738" cy="1300" rx="55" ry="13" fill="#d694ae" filter="url(#b6)"/>
 <ellipse cx="741" cy="1327.5" rx="4" ry="2" fill="#ead6dc" filter="url(#b05)"/>
 <path d="M669.5,773.0 C674.2,772.9 678.3,773.8 683.0,775.0 C687.7,776.2 693.1,778.2 697.5,780.5 C701.9,782.8 705.9,785.4 709.5,788.5 C713.1,791.6 715.9,795.1 719.0,799.0 C722.1,802.9 725.2,807.5 728.0,812.0 C730.8,816.5 733.5,821.2 736.0,826.0 C738.5,830.8 741.2,837.0 743.0,841.0 C744.8,845.0 745.0,846.3 746.9,850.2 C748.8,854.1 751.8,859.5 754.2,864.3 C756.6,869.0 759.0,873.9 761.5,878.7 C764.0,883.5 766.4,888.3 769.1,893.0 C771.8,897.7 774.6,902.3 777.5,906.8 C780.4,911.3 783.5,915.6 786.7,919.9 C789.9,924.1 793.3,928.3 796.8,932.3 C800.3,936.3 804.0,940.2 807.7,944.1 C811.4,948.0 815.3,951.6 819.1,955.4 C822.9,959.2 826.9,962.9 830.6,966.7 C834.3,970.5 838.0,974.3 841.4,978.4 C844.8,982.5 848.1,986.6 850.9,991.2 C853.7,995.8 856.9,1001.4 858.2,1005.9 C859.6,1010.4 859.0,1013.1 859.0,1018.0 C859.0,1022.9 858.7,1028.0 858.3,1035.0 C857.9,1042.0 857.0,1051.7 856.5,1060.0 C856.0,1068.3 855.6,1077.0 855.0,1085.0 C854.4,1093.0 853.8,1101.3 853.0,1108.0 C852.2,1114.7 851.3,1119.7 850.5,1125.0 C849.7,1130.3 848.9,1134.5 848.0,1140.0 C847.1,1145.5 846.0,1152.2 845.0,1158.0 C844.0,1163.8 843.2,1169.3 842.0,1175.0 C840.8,1180.7 839.4,1186.2 838.0,1192.0 C836.6,1197.8 835.0,1204.2 833.5,1210.0 C832.0,1215.8 830.6,1221.3 829.0,1227.0 C827.4,1232.7 825.8,1238.2 824.0,1244.0 C822.2,1249.8 820.6,1255.9 818.4,1262.0 C816.2,1268.1 813.7,1274.8 811.0,1280.5 C808.3,1286.2 805.8,1290.8 802.3,1296.0 C798.8,1301.2 794.3,1307.0 790.0,1311.5 C785.7,1316.0 781.8,1319.9 776.5,1323.0 C771.2,1326.1 764.2,1328.6 758.0,1330.0 C751.8,1331.4 745.3,1331.7 739.0,1331.5 C732.7,1331.3 725.7,1330.4 720.0,1329.0 C714.3,1327.6 709.7,1325.4 705.0,1323.0 C700.3,1320.6 696.2,1317.7 692.0,1314.5 C687.8,1311.3 683.6,1307.7 680.0,1304.0 C676.4,1300.3 673.2,1296.5 670.5,1292.5 C667.8,1288.5 665.8,1284.2 664.0,1280.0 C662.2,1275.8 661.0,1271.3 660.0,1267.0 C659.0,1262.7 658.3,1258.5 657.8,1254.0 C657.3,1249.5 657.0,1245.0 657.2,1240.0 C657.4,1235.0 658.0,1229.3 658.8,1224.0 C659.6,1218.7 660.7,1213.7 661.8,1208.0 C662.9,1202.3 664.0,1196.0 665.5,1190.0 C667.0,1184.0 668.7,1177.7 670.5,1172.0 C672.3,1166.3 674.2,1161.3 676.5,1156.0 C678.8,1150.7 681.3,1146.0 684.0,1140.0 C686.7,1134.0 689.6,1126.7 692.5,1120.0 C695.4,1113.3 698.9,1105.3 701.3,1100.0 C703.7,1094.7 705.0,1092.0 707.0,1088.0 C709.0,1084.0 711.4,1080.0 713.5,1076.0 C715.6,1072.0 717.6,1068.0 719.5,1064.0 C721.4,1060.0 723.1,1056.0 725.0,1052.0 C726.9,1048.0 729.3,1044.0 730.8,1040.0 C732.3,1036.0 733.0,1032.0 733.8,1028.0 C734.6,1024.0 735.3,1020.0 735.8,1016.0 C736.3,1012.0 736.7,1008.0 736.8,1004.0 C736.9,1000.0 736.7,996.0 736.5,992.0 C736.3,988.0 736.0,984.0 735.4,980.0 C734.8,976.0 734.0,971.8 732.8,968.0 C731.6,964.2 730.1,960.8 728.0,957.0 C725.9,953.2 723.0,949.2 720.0,945.0 C717.0,940.8 713.5,936.2 710.0,932.0 C706.5,927.8 702.3,923.3 699.2,920.0 C696.1,916.7 693.9,914.7 691.2,912.0 C688.5,909.3 685.7,906.7 683.0,904.0 C680.3,901.3 677.7,898.7 675.2,896.0 C672.7,893.3 670.3,890.7 668.0,888.0 C665.7,885.3 663.9,883.0 661.6,880.0 C659.3,877.0 656.5,873.3 654.0,870.0 C651.5,866.7 648.8,863.5 646.5,860.0 C644.2,856.5 642.3,852.8 640.5,849.0 C638.7,845.2 637.0,841.2 635.5,837.0 C634.0,832.8 632.8,828.3 631.8,824.0 C630.8,819.7 629.7,815.2 629.5,811.0 C629.3,806.8 629.7,802.7 630.5,799.0 C631.3,795.3 632.6,792.0 634.5,789.0 C636.4,786.0 638.6,783.2 642.0,781.0 C645.4,778.8 650.4,776.8 655.0,775.5 C659.6,774.2 664.8,773.1 669.5,773.0Z" fill="none" stroke="#a65a79" stroke-width="2.5" filter="url(#b05)"/>
 <path d="M777.5,906.8 C779.0,909.0 783.5,915.6 786.7,919.9 C789.9,924.1 793.3,928.3 796.8,932.3 C800.3,936.3 804.0,940.2 807.7,944.1 C811.4,948.0 815.3,951.6 819.1,955.4 C822.9,959.2 826.9,962.9 830.6,966.7 C834.3,970.5 838.0,974.3 841.4,978.4 C844.8,982.5 848.1,986.6 850.9,991.2 C853.7,995.8 856.7,1001.1 858.2,1005.9 C859.7,1010.7 859.7,1017.6 860.0,1020.0" stroke="#5e3048" stroke-width="2" fill="none"/>
 <!-- seams -->
 <path d="M716,1116 C760,1128 800,1138 845,1150" stroke="#f0bdd0" stroke-width="1.2" fill="none" opacity="0.6"/>
 <path d="M688,1226 C730,1229 780,1234 826,1240" stroke="#f0bdd0" stroke-width="1.2" fill="none" opacity="0.6"/>
 <!-- icons -->
 <g stroke="#955270" stroke-width="1.5" fill="none" stroke-linecap="round">
  <path d="M707.5,1114 C710,1108 713,1106.5 716,1110 C719,1114 722,1112 725,1107.5"/>
  <path d="M700.5,1149.5 C699,1154 698.5,1158 697.7,1162 C694,1163 690,1166.5 690.2,1170 C690.5,1174 695,1174 696.8,1170 C698,1167 697.8,1164 697.7,1162"/>
  <path d="M674,1216 L679,1209.5 L684,1214.5 C686,1213 689,1212 693,1209"/>
  <path d="M673.5,1225 L678,1219 L684,1225.5 C686,1227 689,1226 692,1222.5"/>
 </g>
</g>
<!-- leader lines -->
<g stroke="#16173f" stroke-width="3" stroke-linecap="round" fill="none">
 <line x1="474" y1="477.6" x2="710.4" y2="455.6"/>
 <polyline points="820,538.6 1070,542.5 730.7,846" stroke-linejoin="round"/>
 <line x1="379.8" y1="751" x2="766.2" y2="712.4"/>
 <line x1="846" y1="890" x2="1070.5" y2="937.6"/>
 <line x1="426.3" y1="1010.9" x2="696.7" y2="1160"/>
 <polyline points="720.8,1111.5 1070,1269 687.2,1219.6" stroke-linejoin="round"/>
 <line x1="337.6" y1="1244" x2="736.5" y2="1323.3"/>
</g>
</svg>
</body></html>
